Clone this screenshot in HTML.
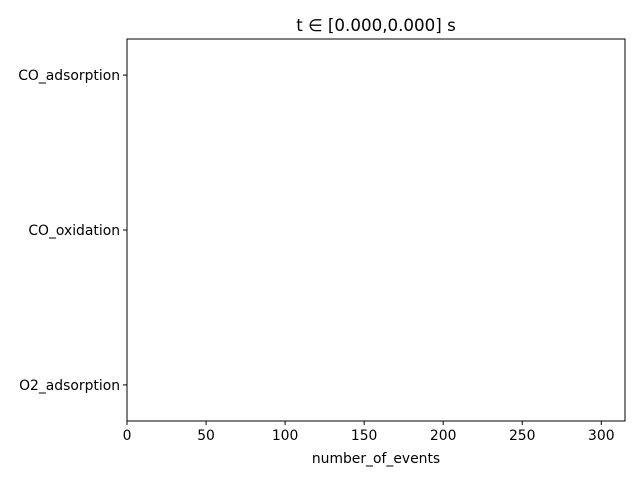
<!DOCTYPE html>
<html><head><meta charset="utf-8"><style>
html,body{margin:0;padding:0;background:#fff;}
svg{display:block;font-family:"DejaVu Sans","Liberation Sans",sans-serif;}
</style></head><body>
<svg id="chart" width="640" height="480" viewBox="0 0 640 480">
<rect x="0" y="0" width="640" height="480" fill="#fff"/>
<g id="bars"></g>
<rect x="127" y="39" width="498" height="382" fill="none" stroke="#000" stroke-width="1"/>
<g id="xticks"></g>
<g id="yticks"></g>
<text x="376" y="31" text-anchor="middle" font-size="16.7">t ∈ [0.000,0.000] s</text>
<text x="376" y="463" text-anchor="middle" font-size="13.9">number_of_events</text>
</svg>
<script>
const categories = ["CO_adsorption", "CO_oxidation", "O2_adsorption"];
const values = [300, 150, 150];
const xTicks = [0, 50, 100, 150, 200, 250, 300];

const NS = "http://www.w3.org/2000/svg";
const L = 127, R = 625, T = 39, B = 421;
const xMax = 315;
function xs(v){ return L + v / xMax * (R - L); }
const n = categories.length;
const yMin = -0.233, yMax = (n - 1) + 0.233;
function ys(i){ return T + (i - yMin) / (yMax - yMin) * (B - T); }

const bars = document.getElementById("bars");
values.forEach((v,i)=>{
  const r = document.createElementNS(NS,"rect");
  r.setAttribute("x", xs(0));
  r.setAttribute("y", ys(i-0.2));
  r.setAttribute("width", xs(v)-xs(0));
  r.setAttribute("height", ys(i+0.2)-ys(i-0.2));
  r.setAttribute("fill", "#fff");
  
  
  bars.appendChild(r);
});

const xg = document.getElementById("xticks");
xTicks.forEach(t=>{
  const x = xs(t);
  const l = document.createElementNS(NS,"line");
  l.setAttribute("x1",x); l.setAttribute("x2",x);
  l.setAttribute("y1",B); l.setAttribute("y2",B+4);
  l.setAttribute("stroke","#000");
  
  
  xg.appendChild(l);
  const tx = document.createElementNS(NS,"text");
  tx.setAttribute("x",x); tx.setAttribute("y",B+19);
  tx.setAttribute("text-anchor","middle"); tx.setAttribute("font-size","13.9");
  tx.textContent = t;
  
  
  xg.appendChild(tx);
});

const yg = document.getElementById("yticks");
categories.forEach((c,i)=>{
  const y = ys(i);
  const l = document.createElementNS(NS,"line");
  l.setAttribute("x1",L-4); l.setAttribute("x2",L);
  l.setAttribute("y1",y); l.setAttribute("y2",y);
  l.setAttribute("stroke","#000");
  
  
  yg.appendChild(l);
  const tx = document.createElementNS(NS,"text");
  tx.setAttribute("x",L-7); tx.setAttribute("y",y+5);
  tx.setAttribute("text-anchor","end"); tx.setAttribute("font-size","13.9");
  tx.textContent = c;
  
  
  yg.appendChild(tx);
});
</script>
</body></html>
